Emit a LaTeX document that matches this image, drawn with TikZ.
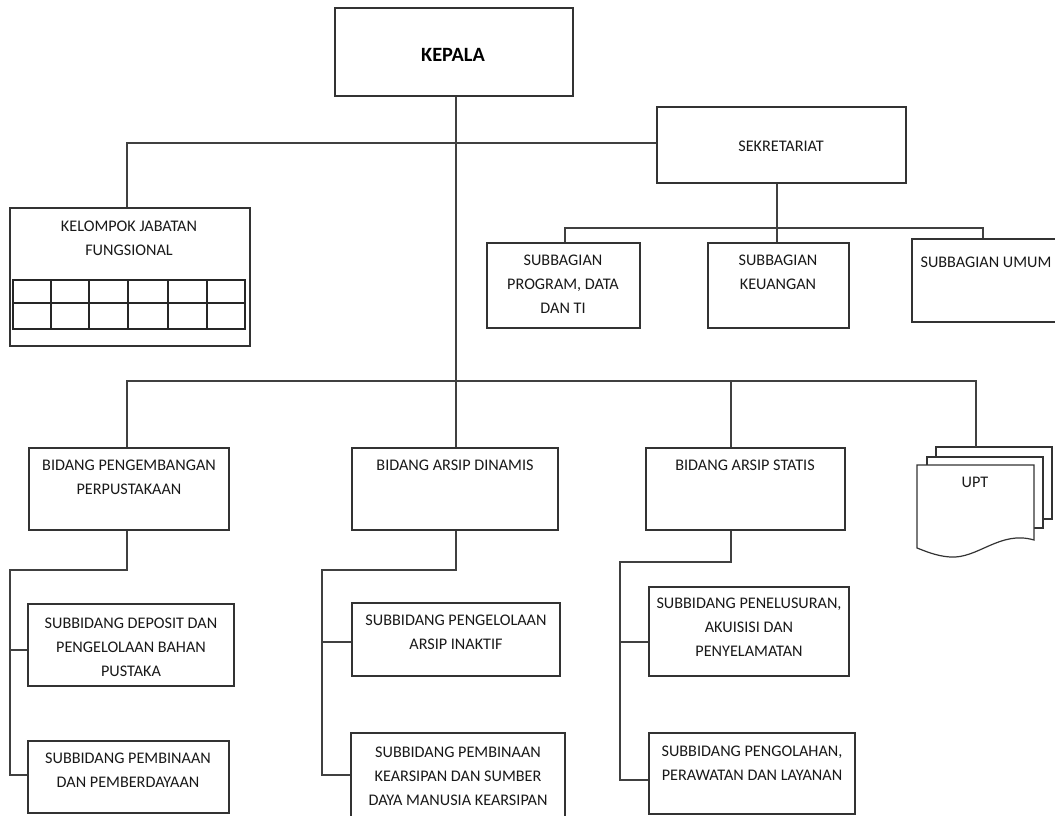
\documentclass[tikz,border=0pt]{standalone}
\usepackage{fontspec}
\setmainfont{Carlito}
\begin{document}
\begin{tikzpicture}[x=1pt,y=-1pt,
  box/.style={draw=black!80,line width=1.3pt,fill=white,inner sep=0pt,rectangle},
  link/.style={draw=black!75,line width=1.3pt},
  txt/.style={inner sep=0pt,anchor=north,align=center,text=black!90,font=\fontsize{16.2}{24}\selectfont},
  head/.style={inner sep=0pt,anchor=center,text=black,font=\fontsize{20.3}{24}\selectfont\bfseries},
  page/.style={draw=black!80,line width=1.2pt,fill=white}]
\useasboundingbox (0,0) rectangle (1055,816);
\clip (0,0) rectangle (1055,816);
\fill[white] (0,0) rectangle (1055,816);

% boxes
\node[box,minimum width=238,minimum height=88] (kepala) at (454,52) {};
\node[box,minimum width=249,minimum height=76] (sek) at (781.5,145) {};
\node[box,minimum width=240,minimum height=138] (kjf) at (130,277) {};
\node[box,minimum width=153,minimum height=85] (sbp) at (563.5,285.5) {};
\node[box,minimum width=141,minimum height=85] (sbk) at (778.5,285.5) {};
\node[box,minimum width=148,minimum height=83] (sbu) at (986,280.5) {};
\node[box,minimum width=200,minimum height=82] (bp) at (129,489) {};
\node[box,minimum width=206,minimum height=82] (bd) at (455,489) {};
\node[box,minimum width=199,minimum height=82] (bs) at (745.5,489) {};
\node[box,minimum width=206,minimum height=82] (sp1) at (131,645) {};
\node[box,minimum width=201,minimum height=72] (sp2) at (128.5,777) {};
\node[box,minimum width=208,minimum height=73] (sd1) at (456,639.5) {};
\node[box,minimum width=214,minimum height=97] (sd2) at (458,781.5) {};
\node[box,minimum width=200,minimum height=89] (ss1) at (749,631.5) {};
\node[box,minimum width=206,minimum height=81] (ss2) at (752,773.5) {};

% table inside KJF
\draw[black!85,line width=1.1pt] (13,280) rectangle (245,329);
\draw[black!85,line width=1.1pt] (13,303) -- (245,303);
\foreach \x in {51,89,128,168,207}
  \draw[black!85,line width=1.1pt] (\x,280) -- (\x,329);

% UPT stacked pages
\coordinate (uptTop) at (976,447);
\draw[page] (936,447) rectangle (1052,519);
\draw[page] (927,457) rectangle (1043,528);
\draw[page] (917,465) -- (1034,465) -- (1034,540)
  .. controls (1000,530) and (978,559) .. (950,557)
  .. controls (936,556) and (925,551) .. (917,548) -- cycle;
\node[txt] (upt) at (975,477) {UPT};

% connectors
\coordinate (bus) at (456,381);
\coordinate (sbar) at (777,228);
\draw[link] (kepala.south -| 456,0) -- (bd.north -| 456,0);
\draw[link] (sek.west |- 0,143) -| (kjf.north -| 127,0);
\draw[link] (sek.south -| sbar) -- (sbk.north -| sbar);
\draw[link] (sbp.north -| 565,0) |- (sbar) -| (sbu.north -| 983,0);
\draw[link] (bp.north -| 127,0) |- (bus) -| (uptTop);
\draw[link] (bs.north -| 731,0) -- (731,381);

\coordinate (pl) at (10,570);
\draw[link] (bp.south -| 127,0) |- (pl) |- (sp2.west |- 0,775);
\draw[link] (pl |- 0,650) -- (sp1.west |- 0,650);

\coordinate (pd) at (322,570);
\draw[link] (bd.south -| 456,0) |- (pd) |- (sd2.west |- 0,775);
\draw[link] (pd |- 0,642) -- (sd1.west |- 0,642);

\coordinate (ps) at (620,562);
\draw[link] (bs.south -| 731,0) |- (ps) |- (ss2.west |- 0,780);
\draw[link] (ps |- 0,642) -- (ss1.west |- 0,642);

% texts
\node[head] (kepalaT) at (453,55) {KEPALA};
\node[txt] (sekT) at (781,141) {SEKRETARIAT};
\node[txt] (kjfT) at (129,221) {KELOMPOK JABATAN\\FUNGSIONAL};
\node[txt] (sbpT) at (563,255) {SUBBAGIAN\\PROGRAM, DATA\\DAN TI};
\node[txt] (sbkT) at (778,255) {SUBBAGIAN\\KEUANGAN};
\node[txt] (sbuT) at (986,257) {SUBBAGIAN UMUM};
\node[txt] (bpT) at (129,460) {BIDANG PENGEMBANGAN\\PERPUSTAKAAN};
\node[txt] (bdT) at (455,460) {BIDANG ARSIP DINAMIS};
\node[txt] (bsT) at (745,460) {BIDANG ARSIP STATIS};
\node[txt] (sp1T) at (131,618) {SUBBIDANG DEPOSIT DAN\\PENGELOLAAN BAHAN\\PUSTAKA};
\node[txt] (sp2T) at (128,753) {SUBBIDANG PEMBINAAN\\DAN PEMBERDAYAAN};
\node[txt] (sd1T) at (456,615) {SUBBIDANG PENGELOLAAN\\ARSIP INAKTIF};
\node[txt] (sd2T) at (458,747) {SUBBIDANG PEMBINAAN\\KEARSIPAN DAN SUMBER\\DAYA MANUSIA KEARSIPAN};
\node[txt] (ss1T) at (749,598) {SUBBIDANG PENELUSURAN,\\AKUISISI DAN\\PENYELAMATAN};
\node[txt] (ss2T) at (752,746) {SUBBIDANG PENGOLAHAN,\\PERAWATAN DAN LAYANAN};
\end{tikzpicture}
\end{document}
